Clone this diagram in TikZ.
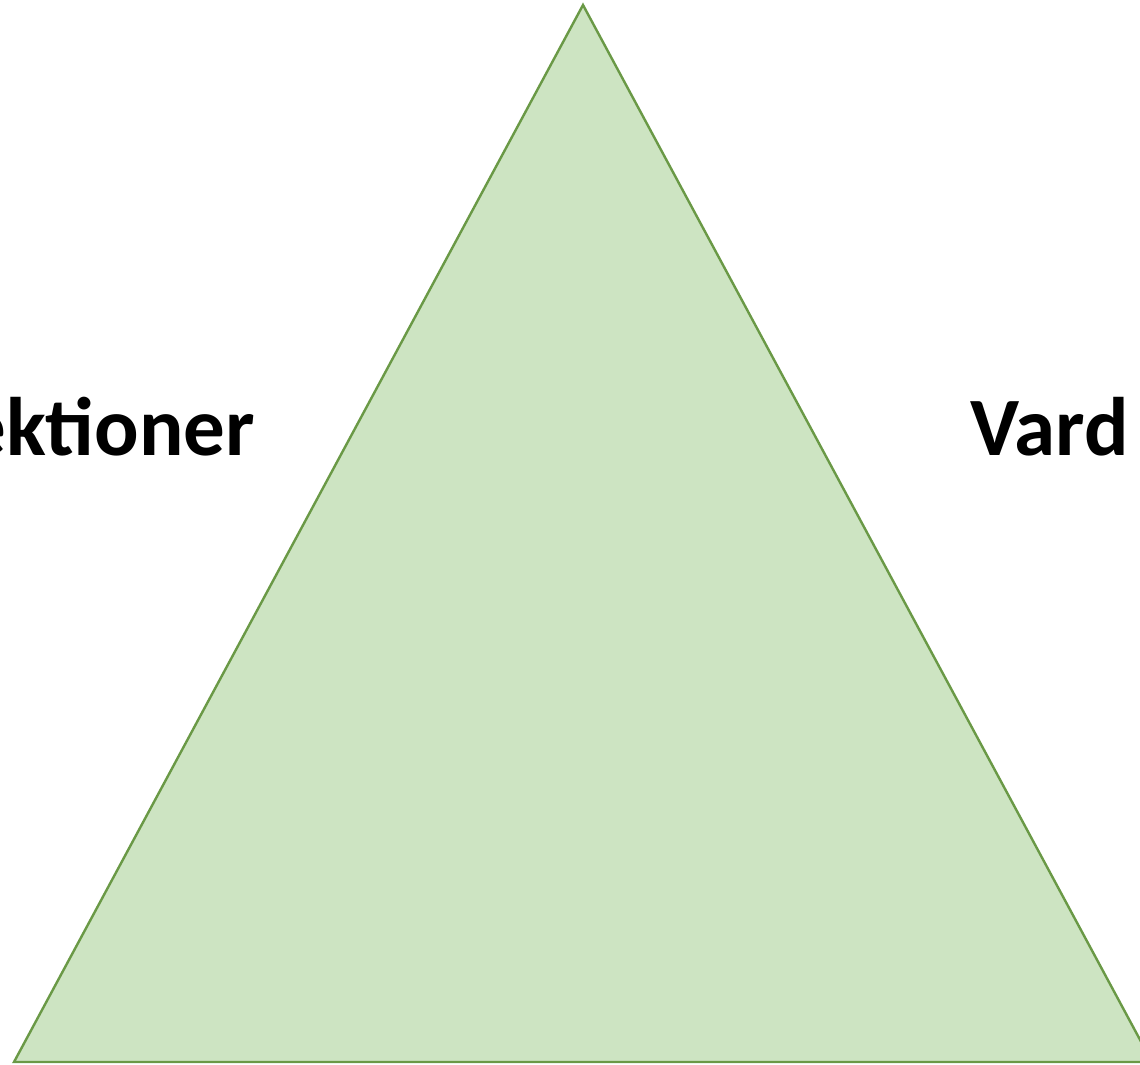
\documentclass[tikz,border=0pt]{standalone}
\usepackage{fontspec}
\setmainfont{Carlito}
\definecolor{trifill}{RGB}{205,228,194}
\definecolor{triline}{RGB}{106,153,70}
\begin{document}
\begin{tikzpicture}[x=1pt,y=-1pt,
  lbl/.style={font=\fontsize{83}{88}\selectfont\bfseries, inner sep=0pt, text=black}]
\useasboundingbox (0,0) rectangle (1140,1065);
\clip (0,0) rectangle (1140,1065);
\coordinate (apex) at (583,5);
\coordinate (bl) at (14,1062);
\coordinate (br) at (1152,1062);
\draw[triline, fill=trifill, line width=2.4pt, line join=miter] (apex) -- (bl) -- (br) -- cycle;
\node[lbl, anchor=base east] (left) at (255,455) {ektioner};
\node[lbl, anchor=base west] (right) at (970,455) {Vard};
\end{tikzpicture}
\end{document}
